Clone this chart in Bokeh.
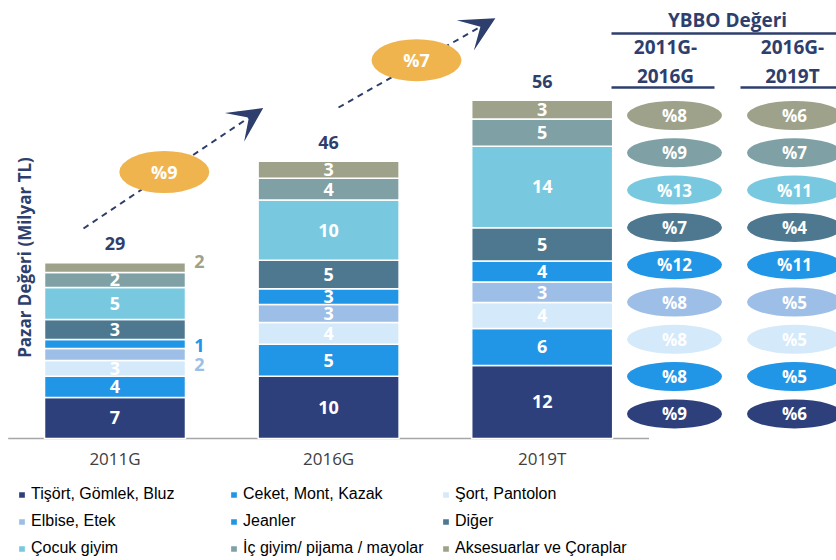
import numpy as np
from math import pi
from bokeh.plotting import figure
from bokeh.models import (Range1d, Legend, LegendItem, Label, Arrow, VeeHead, ColumnDataSource)
from bokeh.core.properties import value
from bokeh.embed import file_html
from bokeh.resources import INLINE

# ---------------- data ----------------
categories = ["2011G", "2016G", "2019T"]
series = ["Tişört, Gömlek, Bluz", "Ceket, Mont, Kazak", "Şort, Pantolon", "Elbise, Etek",
          "Jeanler", "Diğer", "Çocuk giyim", "İç giyim/ pijama / mayolar",
          "Aksesuarlar ve Çoraplar"]

tisort = [6.8, 10.3, 12.1]
ceket = [3.5, 5.3, 6.1]
sort_pantolon = [2.6, 3.6, 4.3]
elbise = [2.0, 3.0, 3.4]
jeanler = [1.5, 2.6, 3.5]
diger = [3.3, 4.7, 5.5]
cocuk = [5.3, 10.0, 13.5]
ic_giyim = [2.5, 3.6, 4.5]
aksesuar = [1.6, 2.8, 3.1]

tisort_lbl = ["7", "10", "12"]
ceket_lbl = ["4", "5", "6"]
sort_lbl = ["3", "4", "4"]
elbise_lbl = ["2", "3", "3"]
jeanler_lbl = ["1", "3", "4"]
diger_lbl = ["3", "5", "5"]
cocuk_lbl = ["5", "10", "14"]
ic_lbl = ["2", "4", "5"]
aksesuar_lbl = ["2", "3", "3"]
total_lbl = ["29", "46", "56"]

total_cagr = ["%9", "%7"]
cagr_11_16 = ["%9", "%8", "%8", "%8", "%12", "%7", "%13", "%9", "%8"]   # bottom -> top series
cagr_16_19 = ["%6", "%5", "%5", "%5", "%11", "%4", "%11", "%7", "%6"]

values = [tisort, ceket, sort_pantolon, elbise, jeanler, diger, cocuk, ic_giyim, aksesuar]
labels = [tisort_lbl, ceket_lbl, sort_lbl, elbise_lbl, jeanler_lbl, diger_lbl, cocuk_lbl,
          ic_lbl, aksesuar_lbl]

# ---------------- style ----------------
colors = ["#2E407C", "#2196E6", "#D4E9F9", "#9DBEE6", "#2196E6", "#4D7890", "#78C9DF",
          "#7FA0A4", "#9EA28A"]
NAVY = "#2E3F6E"
ORANGE = "#F0B44E"
FONT = "Open Sans"

W, H = 836, 560
BASE_PX = 438     # pixel row of the zero line
X0PX = 114.5      # px of first bar center
DX = 213.6        # px per category step
PXU = 6.04        # px per value unit
x_start = -X0PX / DX
x_end = x_start + W / DX


def X(px):
    return x_start + px / DX


def Y(py):
    return (BASE_PX - py) / PXU


p = figure(width=W, height=H, x_range=Range1d(x_start, x_end),
           y_range=Range1d(Y(H), Y(0)), output_backend="svg",
           toolbar_location=None, min_border=0)
p.xaxis.visible = False
p.yaxis.visible = False
p.grid.visible = False
p.outline_line_color = None

xs = np.arange(len(categories))

# baseline + category labels
p.segment(x0=[xs[0] - 0.5], y0=[0], x1=[xs[-1] + 0.5], y1=[0], line_color="#A6A6A6",
          line_width=1.5)
p.text(x=xs, y=np.zeros(len(xs)), text=categories, y_offset=20, text_align="center",
       text_baseline="middle", text_color="#404040", text_font=value(FONT),
       text_font_size="17px")

# ---------------- stacked bars ----------------
BAR_W = 0.66
bottom = np.zeros(len(categories))
bar_renderers = []
for name, vals, lbls, col in zip(series, values, labels, colors):
    v = np.array(vals)
    src = ColumnDataSource(dict(x=xs, bottom=bottom, top=bottom + v))
    r = p.vbar(x="x", bottom="bottom", top="top", width=BAR_W, source=src,
               fill_color=col, line_color="white", line_width=1.5)
    bar_renderers.append(r)
    mid = bottom + v / 2
    inside = v >= 2.2
    lsrc = ColumnDataSource(dict(x=xs[inside], y=mid[inside],
                                 t=[l for l, k in zip(lbls, inside) if k]))
    p.text(x="x", y="y", text="t", source=lsrc, text_align="center", text_baseline="middle",
           text_color="white", text_font=value(FONT), text_font_style="bold",
           text_font_size="18px")
    bottom = bottom + v

# outside labels for thin 2011 segments
out_idx = [8, 4, 3]
out_dy = [-6, 2, 10]
cum = np.cumsum(np.array(values), axis=0)
for si, dy in zip(out_idx, out_dy):
    mid = cum[si][0] - values[si][0] / 2
    p.text(x=[xs[0] + BAR_W / 2], y=[mid], text=[labels[si][0]], x_offset=14, y_offset=dy,
           text_align="center", text_baseline="middle", text_color=colors[si],
           text_font=value(FONT), text_font_style="bold", text_font_size="18px")

# totals
totals = cum[-1]
p.text(x=xs, y=totals, text=total_lbl, y_offset=-19, text_align="center",
       text_baseline="middle", text_color=NAVY, text_font=value(FONT),
       text_font_style="bold", text_font_size="18px")

# ---------------- growth arrows ----------------
for (sx, sy, ex, ey) in [(83, 228, 259, 110), (338, 107, 491, 20)]:
    arr = Arrow(x_start=X(sx), y_start=Y(sy), x_end=X(ex), y_end=Y(ey),
                line_color=NAVY, line_width=2, line_dash="6 5",
                end=VeeHead(size=20, fill_color=NAVY, line_color=NAVY, line_width=4,
                            line_join="miter"),
                level="underlay")
    p.add_layout(arr)

p.ellipse(x=[X(163.8), X(416)], y=[Y(171.5), Y(59.7)], width=90 / DX, height=42 / PXU,
          fill_color=ORANGE, line_color=None)
p.text(x=[X(163.8), X(416)], y=[Y(171.5), Y(59.7)], text=total_cagr, text_align="center",
       text_baseline="middle", text_color="white", text_font=value(FONT),
       text_font_style="bold", text_font_size="18px")

# ---------------- YBBO table ----------------
p.text(x=[X(727)], y=[Y(19)], text=["YBBO Değeri"], text_align="center", text_baseline="middle",
       text_color=NAVY, text_font=value(FONT), text_font_style="bold", text_font_size="19px")
p.segment(x0=[X(611)], y0=[Y(33)], x1=[X(840)], y1=[Y(33)], line_color=NAVY, line_width=2.5)
p.text(x=[X(665), X(792)], y=[Y(61), Y(61)], text=["2011G-\n2016G", "2016G-\n2019T"],
       text_align="center", text_baseline="middle", text_color=NAVY, text_font=value(FONT),
       text_font_style="bold", text_font_size="19px", text_line_height=1.1)
p.segment(x0=[X(611), X(740)], y0=[Y(87), Y(87)], x1=[X(714), X(840)], y1=[Y(87), Y(87)],
          line_color=NAVY, line_width=2.5)

n = len(series)
row_y = [Y(115 + 37.3 * k) for k in range(n)]
row_col = [colors[n - 1 - k] for k in range(n)]
for cx, cagr in [(674, cagr_11_16), (794, cagr_16_19)]:
    txt = [cagr[n - 1 - k] for k in range(n)]
    p.ellipse(x=[X(cx)] * n, y=row_y, width=95 / DX, height=29 / PXU,
              fill_color=row_col, line_color=None)
    p.text(x=[X(cx)] * n, y=row_y, text=txt, text_align="center", text_baseline="middle",
           text_color="white", text_font=value(FONT), text_font_style="bold",
           text_font_size="17px")

# y axis title
p.add_layout(Label(x=X(23.5), y=Y(257), text="Pazar Değeri (Milyar TL)", angle=pi / 2,
                   text_align="center", text_baseline="middle", text_color=NAVY,
                   text_font=FONT, text_font_style="bold", text_font_size="17px"))

# ---------------- legend (3 columns) ----------------
col_x = [17, 229, 441]
for c in range(3):
    idx = [c, c + 3, c + 6]
    items = [LegendItem(label=series[i], renderers=[bar_renderers[i]]) for i in idx]
    lg = Legend(items=items, location=(col_x[c], 2), orientation="vertical",
                glyph_width=9, glyph_height=9, label_height=20, label_standoff=5,
                spacing=7, padding=0, margin=0, border_line_color=None,
                background_fill_alpha=0, label_text_font="Liberation Sans",
                label_text_font_size="16px", label_text_color="#000000")
    p.add_layout(lg, "center")

open("out.html", "w").write(file_html(p, INLINE))
